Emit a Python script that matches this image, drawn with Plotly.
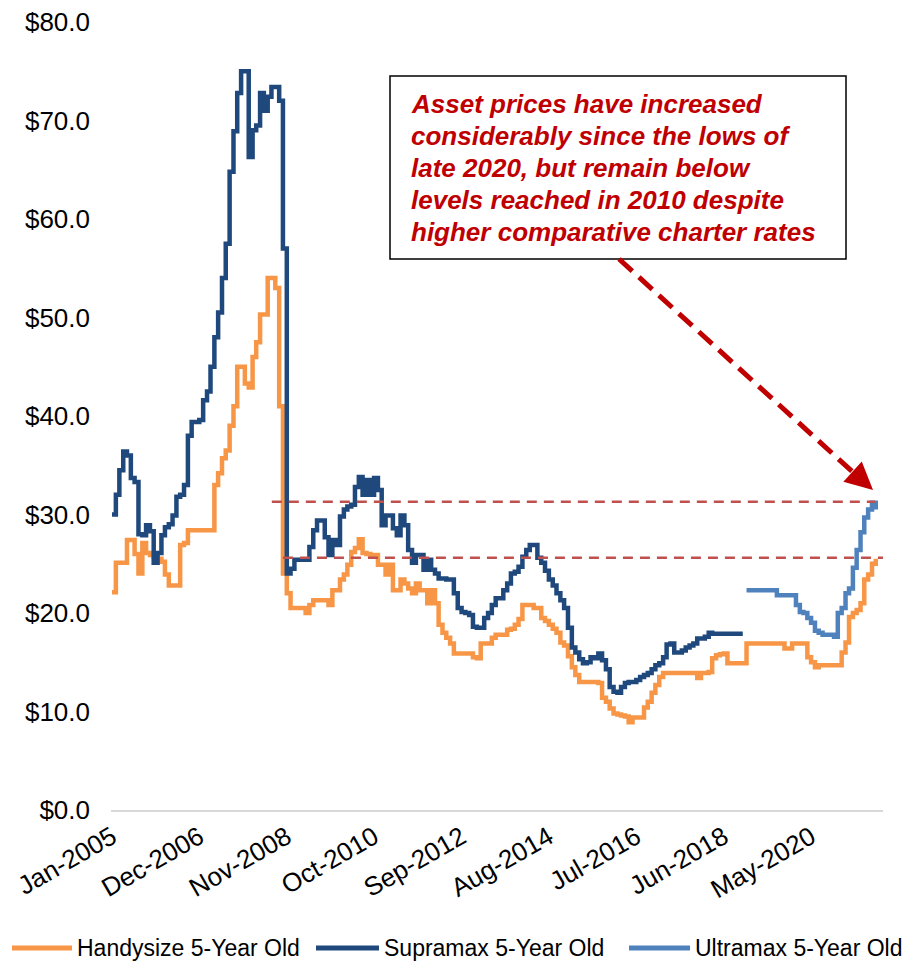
import pandas as pd
import plotly.graph_objects as go

# ---------------- data (US$ million, monthly from Jan-2005) ----------------
handysize = [
    22.1, 25.1, 25.1, 25.1, 27.4, 27.4, 26.0, 24.0, 27.1, 26.1, 25.9, 25.7,   # 2005
    25.5, 25.2, 23.9, 22.8, 22.8, 22.8, 26.9, 27.1, 28.4, 28.4, 28.4, 28.4,   # 2006
    28.4, 28.4, 28.4, 33.0, 34.2, 35.7, 36.5, 39.0, 41.0, 45.0, 45.0, 43.3,   # 2007
    42.9, 46.0, 47.5, 50.3, 50.3, 54.0, 54.0, 53.0, 41.0, 24.0, 22.0, 20.5,   # 2008
    20.5, 20.5, 20.5, 20.0, 20.8, 21.3, 21.3, 21.3, 21.3, 20.8, 22.3, 22.3,   # 2009
    23.4, 23.9, 24.9, 26.2, 26.6, 27.5, 26.1, 26.0, 25.9, 25.9, 24.9, 24.9,   # 2010
    23.9, 24.9, 22.3, 22.3, 23.4, 23.0, 22.5, 22.0, 23.0, 22.3, 22.3, 21.0,   # 2011
    22.3, 21.0, 18.8, 18.0, 17.5, 16.9, 15.9, 15.9, 15.9, 15.9, 15.9, 15.5,   # 2012
    15.4, 16.9, 16.9, 16.9, 17.5, 17.8, 17.8, 17.8, 18.3, 18.4, 18.8, 19.4,   # 2013
    20.8, 20.8, 20.8, 20.5, 20.5, 19.5, 19.2, 18.8, 18.4, 18.0, 17.0, 16.7,   # 2014
    15.6, 14.5, 13.7, 13.0, 13.0, 13.0, 13.0, 13.0, 12.9, 11.4, 11.0, 10.3,   # 2015
    9.8, 9.7, 9.6, 9.5, 8.9, 9.4, 9.4, 9.4, 10.4, 11.0, 11.9, 12.7,           # 2016
    13.5, 13.9, 13.9, 13.9, 13.9, 13.9, 13.9, 13.9, 13.9, 13.9, 13.4, 13.9,   # 2017
    13.9, 14.0, 15.4, 15.7, 15.8, 15.9, 14.9, 14.9, 14.9, 14.9, 14.9, 16.9,   # 2018
    16.9, 16.9, 16.9, 16.9, 16.9, 16.9, 16.9, 16.9, 16.9, 16.4, 16.4, 16.9,   # 2019
    16.9, 16.9, 16.9, 15.5, 15.0, 14.5, 14.7, 14.7, 14.7, 14.7, 14.7, 14.7,   # 2020
    16.0, 17.0, 19.6, 20.0, 20.3, 21.0, 23.4, 23.9, 25.0, 25.5,               # 2021
]
supramax = [
    30.0, 32.0, 34.5, 36.4, 36.0, 33.7, 33.3, 28.0, 27.9, 28.9, 28.3, 25.1,   # 2005
    26.1, 27.9, 28.7, 29.0, 29.9, 31.8, 32.0, 33.0, 38.0, 39.4, 39.4, 39.6,   # 2006
    41.6, 42.5, 45.0, 48.0, 50.5, 54.0, 57.5, 64.8, 68.9, 72.8, 75.0, 75.0,   # 2007
    66.3, 69.0, 69.5, 72.8, 71.0, 72.4, 73.4, 73.4, 72.0, 57.0, 24.0, 24.5,   # 2008
    25.4, 25.4, 25.4, 25.4, 26.7, 28.4, 29.4, 29.4, 27.7, 25.9, 27.4, 26.9,   # 2009
    29.8, 30.5, 30.8, 31.0, 32.8, 33.8, 32.0, 33.5, 32.0, 33.7, 32.5, 28.9,   # 2010
    29.9, 29.9, 28.6, 27.9, 29.9, 28.9, 26.4, 25.1, 25.9, 25.9, 24.4, 25.4,   # 2011
    24.4, 24.0, 23.5, 23.5, 23.4, 23.4, 22.0, 20.5, 20.1, 20.0, 19.8, 18.6,   # 2012
    18.5, 18.5, 19.5, 20.0, 20.8, 21.5, 21.5, 22.3, 23.0, 24.0, 24.2, 24.7,   # 2013
    25.7, 26.4, 26.9, 26.9, 25.6, 25.1, 24.3, 23.4, 22.8, 22.0, 21.3, 20.5,   # 2014
    18.5, 16.5, 16.0, 15.3, 14.9, 15.0, 15.5, 15.4, 15.9, 15.2, 14.3, 12.5,   # 2015
    12.0, 11.9, 12.5, 12.9, 13.0, 13.0, 13.2, 13.5, 13.7, 13.9, 14.3, 14.7,   # 2016
    14.9, 15.5, 16.8, 16.9, 16.0, 16.0, 16.2, 16.5, 16.7, 16.9, 17.4, 17.4,   # 2017
    17.6, 18.0, 17.9, 17.9, 17.9, 17.9, 17.9, 17.9, 17.9, 17.9, 17.9,         # 2018 (to Nov)
]
ultramax = [
    22.3,                                                                     # Dec-2018
    22.3, 22.3, 22.3, 22.3, 22.3, 22.3, 22.3, 21.8, 21.8, 21.8, 21.8, 21.8,   # 2019
    20.8, 20.1, 20.0, 19.5, 19.0, 18.2, 18.0, 17.8, 17.8, 17.8, 17.6, 20.0,   # 2020
    20.5, 22.0, 22.5, 24.6, 26.4, 28.2, 29.7, 30.5, 31.2, 30.5,               # 2021
]
series_names = ["Handysize 5-Year Old", "Supramax 5-Year Old", "Ultramax 5-Year Old"]
series_colors = ["#F79646", "#1F497D", "#4F81BD"]

tick_dates = ["2005-01-01", "2006-12-01", "2008-11-01", "2010-10-01", "2012-09-01",
              "2014-08-01", "2016-07-01", "2018-06-01", "2020-05-01"]
tick_labels = ["Jan-2005", "Dec-2006", "Nov-2008", "Oct-2010", "Sep-2012",
               "Aug-2014", "Jul-2016", "Jun-2018", "May-2020"]

# reference levels (dashed): recent Ultramax high and recent Handysize level
ref_levels = [31.3, 25.6]
ref_starts = ["2008-07-04", "2008-10-01"]
ref_ends = ["2021-09-25", "2021-12-31"]

annotation_lines = [
    "Asset prices have increased",
    "considerably since the lows of",
    "late 2020, but remain below",
    "levels reached in 2010 despite",
    "higher comparative charter rates",
]

# ---------------- figure ----------------
dates = pd.date_range("2005-01-01", periods=len(handysize), freq="MS")
n_s = len(supramax)
x_sets = [dates, dates[:n_s], dates[n_s:n_s + len(ultramax)]]
y_sets = [handysize, supramax, ultramax]

FONT = "Arial, 'Liberation Sans', sans-serif"
fig = go.Figure()
for name, col, xs, ys in zip(series_names, series_colors, x_sets, y_sets):
    fig.add_trace(go.Scatter(x=list(xs), y=ys, name=name, mode="lines",
                             showlegend=False,
                             line=dict(color=col, width=4.5, shape="hv")))

# dashed reference lines
for lvl, x0, x1 in zip(ref_levels, ref_starts, ref_ends):
    fig.add_shape(type="line", xref="x", yref="y", x0=x0, x1=x1, y0=lvl, y1=lvl,
                  line=dict(color="#C0504D", width=2.5, dash="10px,7px"))

# page-pixel -> paper helpers (plot area spans page x 111..883, y 22..810)
W, H = 772.0, 788.0
def px(xp):
    return (xp - 111) / W
def py(yp):
    return (810 - yp) / H

# text box
fig.add_shape(type="rect", xref="paper", yref="paper",
              x0=px(390), x1=px(846), y0=py(259), y1=py(76),
              line=dict(color="black", width=1.5), fillcolor="white", layer="above")
for i, t in enumerate(annotation_lines):
    fig.add_annotation(xref="paper", yref="paper", x=px(409), y=py(104 + 32 * i),
                       xanchor="left", yanchor="middle", showarrow=False,
                       text="<b><i>" + t + "</i></b>",
                       font=dict(family=FONT, size=26, color="#C00000"))

# dashed arrow
fig.add_shape(type="line", xref="paper", yref="paper",
              x0=px(619), y0=py(259), x1=px(856), y1=py(475),
              line=dict(color="#C00000", width=5, dash="18px,9px"))
fig.add_annotation(xref="paper", yref="paper", x=px(873), y=py(490),
                   ax=-20, ay=-18, text="", showarrow=True,
                   arrowhead=2, arrowsize=1.1, arrowwidth=5, arrowcolor="#C00000",
                   standoff=0)

# legend (bottom, drawn as line samples + labels)
legend_sample_x = [(12, 72), (316, 379), (629, 690)]
legend_text_x = [75, 382, 693]
LEG_Y = 948
for name, col, (sx0, sx1), tx in zip(series_names, series_colors, legend_sample_x, legend_text_x):
    fig.add_shape(type="line", xref="paper", yref="paper",
                  x0=px(sx0), x1=px(sx1), y0=py(LEG_Y), y1=py(LEG_Y),
                  line=dict(color=col, width=5))
    fig.add_annotation(xref="paper", yref="paper", x=px(tx), y=py(LEG_Y),
                       xanchor="left", yanchor="middle", showarrow=False,
                       text=name, font=dict(family=FONT, size=23, color="black"))

# page body has an 8px margin: figure is sized/offset accordingly
fig.update_layout(
    width=904, height=957,
    margin=dict(l=103, r=29, t=14, b=155, autoexpand=False),
    paper_bgcolor="white", plot_bgcolor="white",
    font=dict(family=FONT, color="black", size=26),
    showlegend=False,
)
fig.update_xaxes(type="date", range=["2004-12-24", "2021-11-28"], automargin=False,
                 tickmode="array", tickvals=tick_dates, ticktext=tick_labels,
                 tickangle=-30, ticks="", showgrid=False, zeroline=False,
                 showline=True, linecolor="#D9D9D9", linewidth=1.5,
                 ticklabeloverflow="allow",
                 tickfont=dict(size=26, family=FONT))
fig.update_yaxes(range=[0, 80], dtick=10, tickprefix="$", tickformat=".1f",
                 automargin=False, ticklabeloverflow="allow",
                 showgrid=False, zeroline=False, showline=False, ticks="",
                 ticklabelstandoff=20, tickfont=dict(size=26, family=FONT))

fig.write_html("out.html")
